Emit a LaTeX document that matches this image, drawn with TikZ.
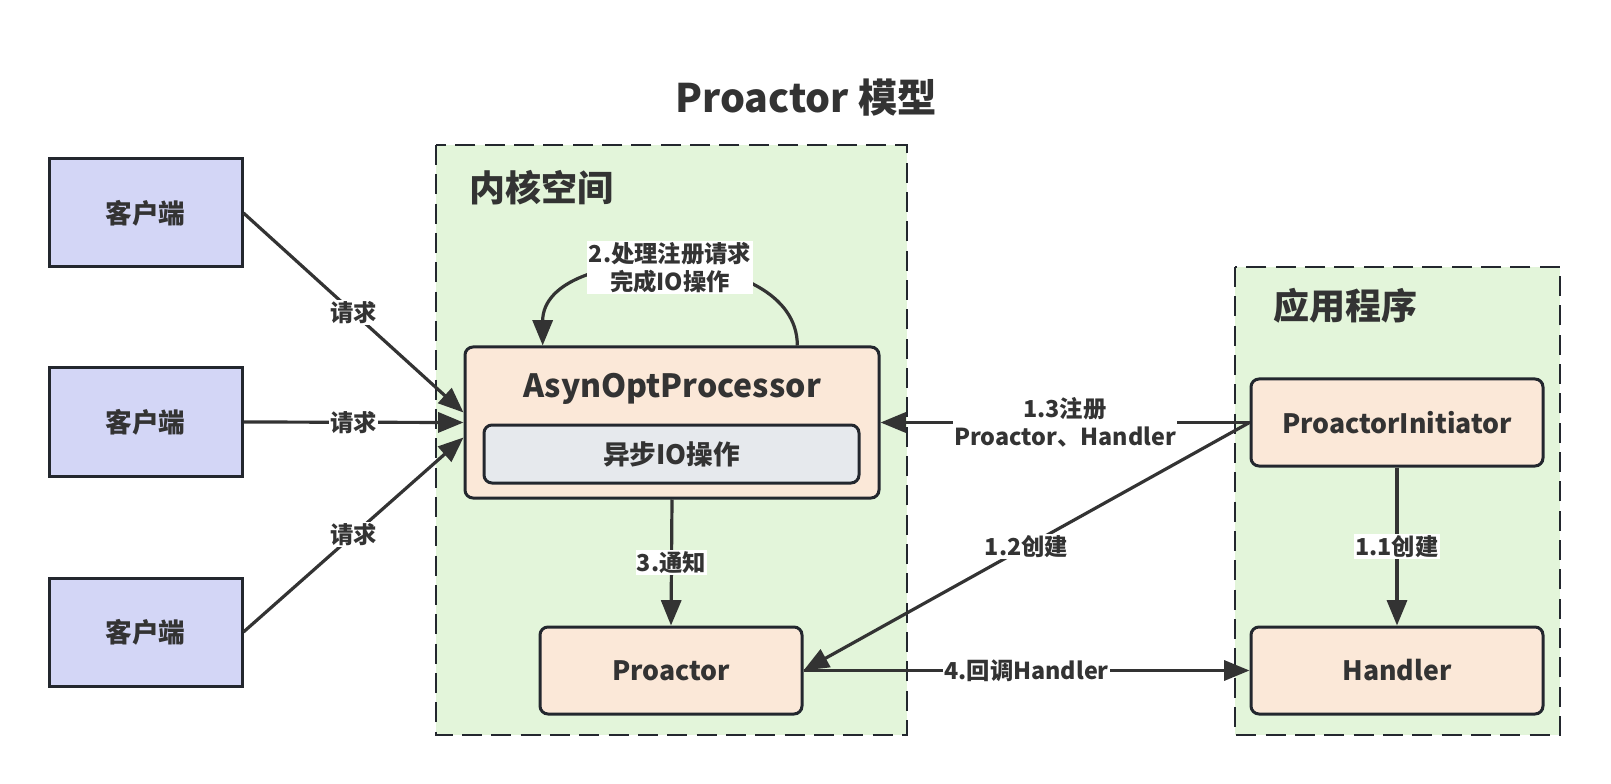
\documentclass[tikz,border=0pt]{standalone}
\usepackage{fontspec}
\setmainfont{Noto Sans CJK SC}
\usetikzlibrary{arrows.meta}
\definecolor{inkgray}{HTML}{333333}
\definecolor{edgedark}{HTML}{23272E}
\definecolor{clientblue}{HTML}{D3D6F6}
\definecolor{zonegreen}{HTML}{E3F5DA}
\definecolor{peach}{HTML}{FBE8D8}
\definecolor{paleslate}{HTML}{E6E9ED}
\begin{document}
\begin{tikzpicture}[x=0.75pt,y=-0.75pt,
    client/.style={draw=edgedark, line width=2.25pt, fill=clientblue, text=inkgray,
      minimum width=144.75pt, minimum height=81pt, font=\fontsize{20}{24}\selectfont\bfseries},
    comp/.style={draw=edgedark, line width=2.25pt, fill=peach, rounded corners=6pt, text=inkgray,
      font=\fontsize{20}{24}\selectfont\bfseries},
    zone/.style={draw=edgedark, line width=1.5pt, fill=zonegreen, dash pattern=on 15pt off 7pt},
    zonetitle/.style={anchor=west, text=inkgray, font=\fontsize{27}{32}\selectfont\bfseries},
    link/.style={draw=inkgray, line width=2.4pt, -{Triangle[length=19pt,width=15pt]}},
    tag/.style={fill=white, text=inkgray, inner sep=1pt, align=center,
      font=\fontsize{17.5}{21}\selectfont\bfseries}]
    \useasboundingbox (0,0) rectangle (1611,784);

    % Zones
    \draw[zone] (436,145) rectangle (907,735);
    \draw[zone] (1235,267) rectangle (1560,735);

    % Nodes
    \node[text=inkgray, font=\fontsize{29.5}{34}\selectfont\bfseries] at (806,98) (title) {Proactor 模型};
    \node[zonetitle] at (465,188) (kernel) {内核空间};
    \node[zonetitle] at (1269,306) (app) {应用程序};

    \node[client] at (145.5,213) (c1) {客户端};
    \node[client] at (145.5,422) (c2) {客户端};
    \node[client] at (145.5,632) (c3) {客户端};

    \node[comp, minimum width=310.5pt, minimum height=113.25pt] at (672,422.5) (proc) {};
    \node[text=inkgray, font=\fontsize{24}{28}\selectfont\bfseries] at (672,389) (proctitle) {AsynOptProcessor};
    \node[comp, fill=paleslate, minimum width=281.25pt, minimum height=43.5pt] at (671.5,454) (aio) {异步IO操作};
    \node[comp, minimum width=196.5pt, minimum height=65.25pt] at (671,670.5) (proactor) {Proactor};
    \node[comp, minimum width=219pt, minimum height=65.25pt] at (1397,422.5) (init) {ProactorInitiator};
    \node[comp, minimum width=219pt, minimum height=65.25pt] at (1397,670.5) (handler) {Handler};

    % Arrows and labels
    \draw[link] (c1.east) -- ([yshift=7.5pt]proc.west) node[midway, tag] {请求};
    \draw[link] (c2.east) -- (proc.west) node[midway, tag] {请求};
    \draw[link] (c3.east) -- ([yshift=-11.25pt]proc.west) node[midway, tag] {请求};
    \draw[link] ([xshift=94pt]proc.north) to[out=90, in=90, looseness=1.05]
      node[midway, tag] {2.处理注册请求\\完成IO操作} ([xshift=-97pt]proc.north);
    \draw[link] (proc.south) -- (proactor.north) node[midway, tag] {3.通知};
    \draw[link] (init.west) -- (proc.east) node[midway, tag] {1.3注册\\Proactor、Handler};
    \draw[link] (init.west) -- (proactor.east) node[midway, tag] {1.2创建};
    \draw[link] (init.south) -- (handler.north) node[midway, tag] {1.1创建};
    \draw[link] (proactor.east) -- (handler.west) node[midway, tag] {4.回调Handler};
\end{tikzpicture}
\end{document}
